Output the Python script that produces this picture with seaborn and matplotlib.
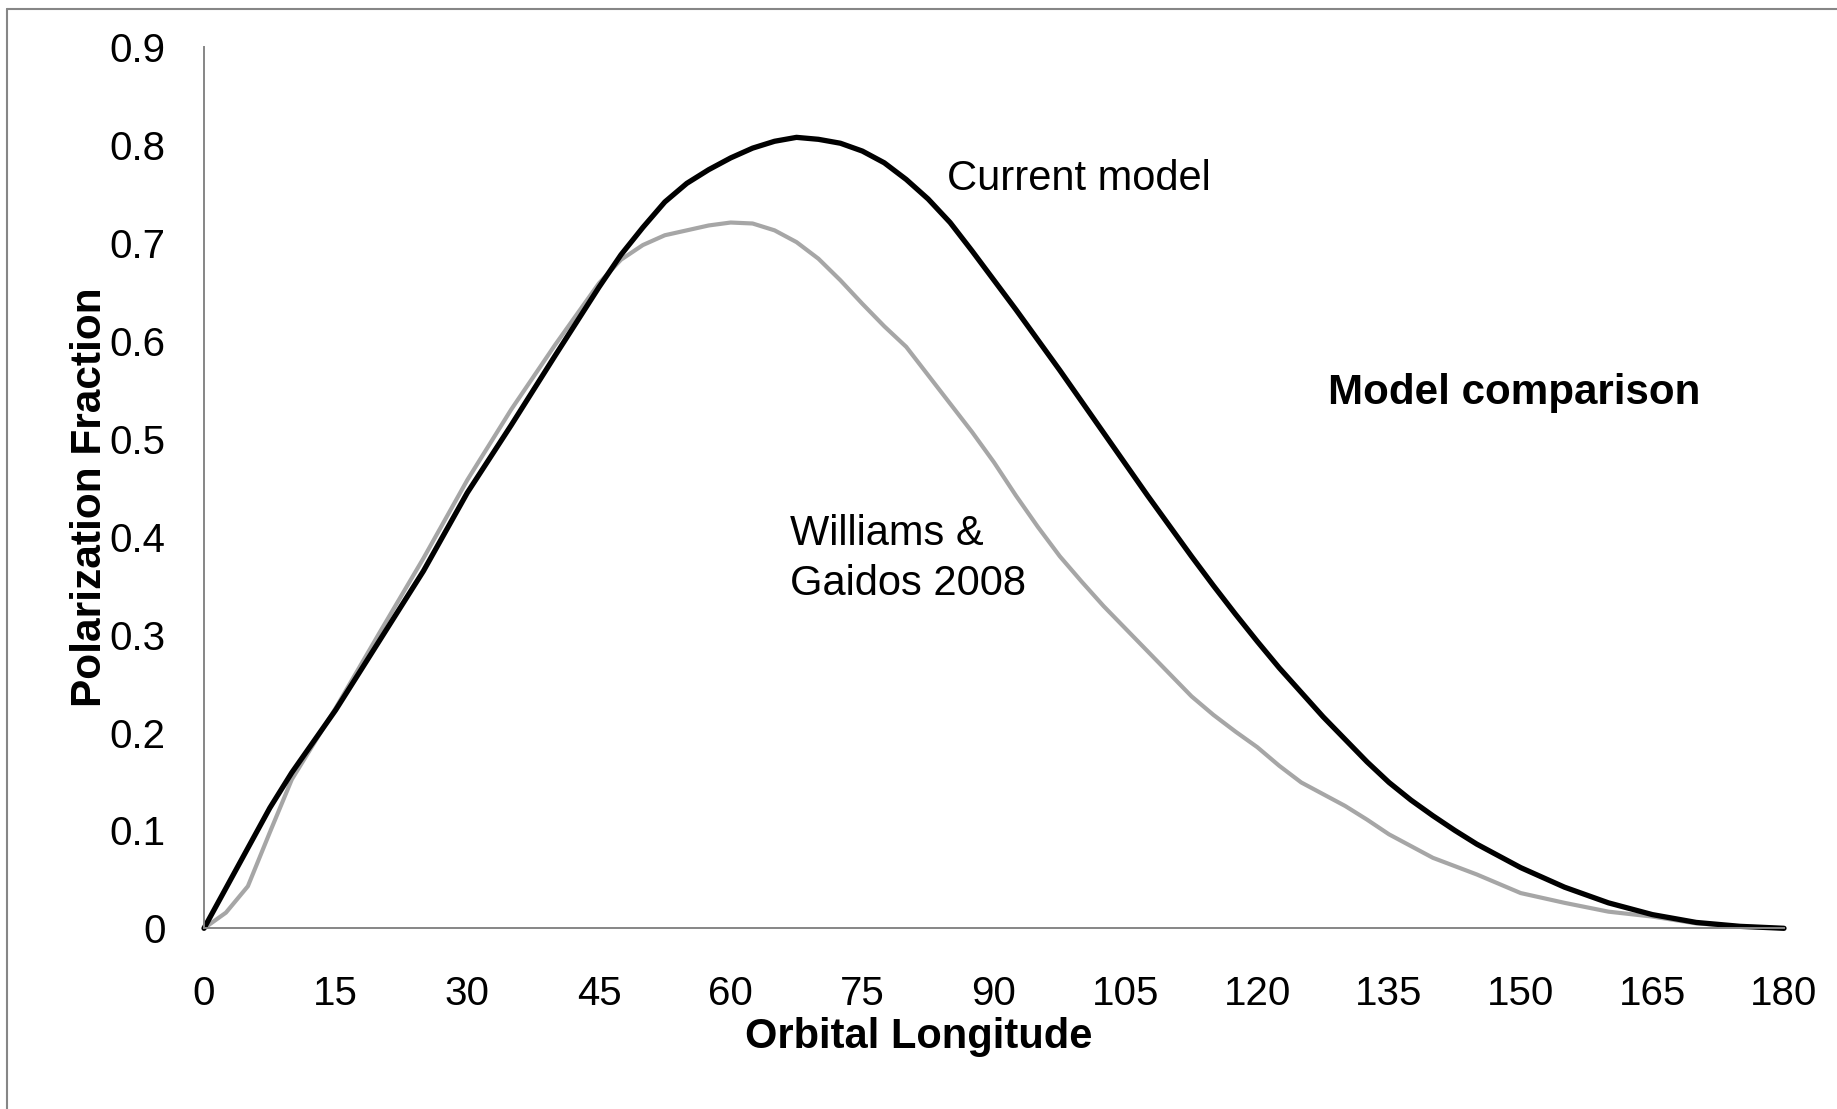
import pandas as pd
import matplotlib.pyplot as plt
import seaborn as sns
from matplotlib.lines import Line2D

current_lon = [0, 5, 7.5, 10, 15, 20, 25, 30, 35, 40, 42.5, 45, 47.5, 50, 52.5, 55, 57.5,
               60, 62.5, 65, 67.5, 70, 72.5, 75, 77.5, 80, 82.5, 85, 87.5, 90, 92.5, 95,
               97.5, 100, 102.5, 105, 107.5, 110, 112.5, 115, 117.5, 120, 122.5, 125,
               127.5, 130, 132.5, 135, 137.5, 140, 142.5, 145, 150, 155, 160, 165,
               170, 175, 180]
current_pol = [0, 0.082, 0.123, 0.159, 0.223, 0.294, 0.365, 0.445, 0.514, 0.585, 0.620,
               0.655, 0.688, 0.716, 0.742, 0.761, 0.775, 0.787, 0.797, 0.804, 0.808,
               0.806, 0.802, 0.794, 0.782, 0.765, 0.745, 0.721, 0.692, 0.662, 0.632,
               0.601, 0.570, 0.538, 0.506, 0.474, 0.442, 0.411, 0.380, 0.350, 0.321,
               0.293, 0.266, 0.241, 0.216, 0.193, 0.170, 0.149, 0.131, 0.115, 0.100,
               0.086, 0.062, 0.042, 0.026, 0.014, 0.006, 0.002, 0]

wg_lon = [0, 2.5, 5, 7.5, 10, 15, 20, 25, 30, 35, 40, 45, 47.5, 50, 52.5, 55, 57.5, 60,
          62.5, 65, 67.5, 70, 72.5, 75, 77.5, 80, 82.5, 85, 87.5, 90, 92.5, 95, 97.5,
          100, 102.5, 105, 107.5, 110, 112.5, 115, 117.5, 120, 122.5, 125, 127.5, 130,
          132.5, 135, 140, 145, 150, 155, 160, 165, 170, 175, 180]
wg_pol = [0, 0.016, 0.043, 0.098, 0.152, 0.225, 0.302, 0.378, 0.458, 0.530, 0.596,
          0.659, 0.683, 0.698, 0.708, 0.713, 0.718, 0.721, 0.720, 0.713, 0.701, 0.684,
          0.662, 0.638, 0.615, 0.594, 0.565, 0.536, 0.507, 0.476, 0.442, 0.410, 0.380,
          0.354, 0.329, 0.306, 0.283, 0.260, 0.237, 0.218, 0.201, 0.185, 0.166, 0.149,
          0.137, 0.125, 0.111, 0.096, 0.072, 0.055, 0.036, 0.026, 0.017, 0.012, 0.005,
          0.002, 0]

x_ticks = list(range(0, 181, 15))
y_ticks = [0, 0.1, 0.2, 0.3, 0.4, 0.5, 0.6, 0.7, 0.8, 0.9]
y_ticklabels = ["0", "0.1", "0.2", "0.3", "0.4", "0.5", "0.6", "0.7", "0.8", "0.9"]

df = pd.concat([
    pd.DataFrame({"lon": wg_lon, "pol": wg_pol, "model": "Williams & Gaidos 2008"}),
    pd.DataFrame({"lon": current_lon, "pol": current_pol, "model": "Current model"}),
])

sns.set_style("white")
plt.rcParams["font.family"] = ["Liberation Sans", "DejaVu Sans"]
plt.rcParams["text.color"] = "black"
plt.rcParams["axes.labelcolor"] = "black"
axis_grey = "#868686"

W, H = 1837, 1109
fig = plt.figure(figsize=(W / 100, H / 100), dpi=100)
ax = fig.add_axes([204 / W, 1 - 928.3 / H, 1580 / W, 881 / H])

sns.lineplot(data=df, x="lon", y="pol", hue="model", sort=False,
             hue_order=["Williams & Gaidos 2008", "Current model"],
             palette={"Williams & Gaidos 2008": "#a6a6a6", "Current model": "black"},
             legend=False, ax=ax)
for line, lw in zip(ax.lines, [3.0, 3.8]):
    line.set_linewidth(lw)
    line.set_clip_on(False)
    line.set_solid_capstyle("round")
    line.set_solid_joinstyle("round")

ax.set_xlim(0, 180)
ax.set_ylim(0, 0.9)
ax.set_xticks(x_ticks)
ax.set_yticks(y_ticks, y_ticklabels)
ax.tick_params(axis="both", colors=axis_grey, labelcolor="black", labelsize=29,
               length=8.6, width=1.4, direction="out")
ax.tick_params(axis="x", pad=25)
ax.tick_params(axis="y", pad=19)
ax.spines[["top", "right"]].set_visible(False)
for s in ["left", "bottom"]:
    ax.spines[s].set_color(axis_grey)
    ax.spines[s].set_linewidth(1.4)

ax.set_xlabel("Orbital Longitude", fontsize=30, fontweight="bold")
ax.xaxis.label.set_va("baseline")
ax.xaxis.set_label_coords(0.4525, -0.1362)
ax.set_ylabel("Polarization Fraction", fontsize=30.5, fontweight="bold")
ax.yaxis.label.set_va("baseline")
ax.yaxis.set_label_coords(-0.0652, 0.489)

ax.text(84.6, 0.7547, "Current model", fontsize=30, va="baseline")
ax.text(66.8, 0.3916, "Williams &", fontsize=30, va="baseline")
ax.text(66.8, 0.3405, "Gaidos 2008", fontsize=30, va="baseline")
ax.text(128.0, 0.5357, "Model comparison", fontsize=30.3, fontweight="bold", va="baseline")

# chart frame (only left and top edges show in the crop)
fig.add_artist(Line2D([7 / W, 7 / W], [0, 1 - 9 / H], color=axis_grey, lw=1.5))
fig.add_artist(Line2D([7 / W, 1], [1 - 9 / H, 1 - 9 / H], color=axis_grey, lw=1.5))

fig.savefig("out.png", dpi=100, facecolor="white")
